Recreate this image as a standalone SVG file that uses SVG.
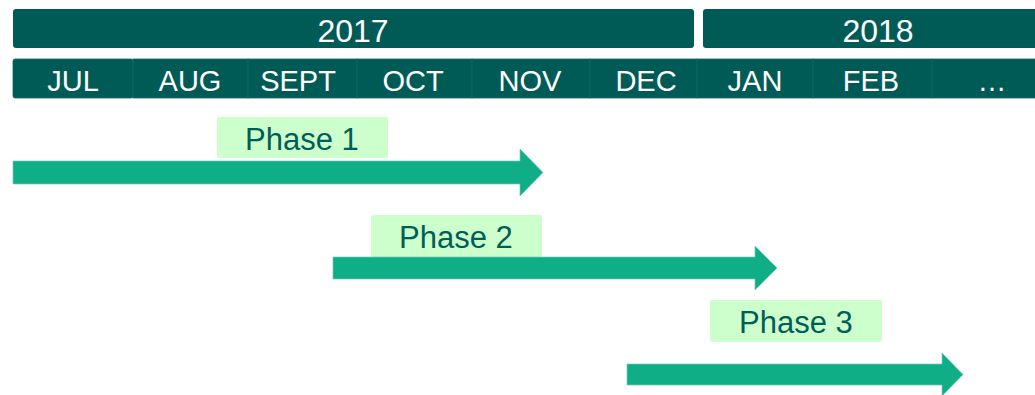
<svg xmlns="http://www.w3.org/2000/svg" width="1035" height="395" viewBox="0 0 1035 395">
<style>
.bar{fill:#005b57;}
.cell{fill:#005b57;stroke:#14665f;stroke-width:0.8;}
.wt{fill:#ffffff;font-family:"Liberation Sans",Arial,sans-serif;text-anchor:middle;}
.yr{font-size:32px;}
.mo{font-size:29px;}
.lbl{fill:#ccffcc;}
.pt{fill:#005e58;font-family:"Liberation Sans",Arial,sans-serif;font-size:31px;text-anchor:middle;}
.arr{fill:#0fae87;stroke:#6fcfb3;stroke-width:0.7;}
</style>
<rect width="1035" height="395" fill="#ffffff"/>
<g id="years">
<g id="year-2017"><rect class="bar" x="13" y="9" width="681" height="39" rx="3"/><text class="wt yr" x="353" y="42">2017</text></g>
<g id="year-2018"><rect class="bar" x="703" y="9" width="340" height="39" rx="3"/><text class="wt yr" x="878" y="42">2018</text></g>
</g>
<g id="months">
<g id="m-jul"><rect class="cell" x="13" y="59" width="120" height="39" rx="2"/><text class="wt mo" x="73" y="91">JUL</text></g>
<g id="m-aug"><rect class="cell" x="133" y="59" width="115" height="39"/><text class="wt mo" x="190" y="91">AUG</text></g>
<g id="m-sept"><rect class="cell" x="248" y="59" width="109" height="39"/><text class="wt mo" x="298" y="91">SEPT</text></g>
<g id="m-oct"><rect class="cell" x="357" y="59" width="115" height="39"/><text class="wt mo" x="413" y="91">OCT</text></g>
<g id="m-nov"><rect class="cell" x="472" y="59" width="118" height="39"/><text class="wt mo" x="530" y="91">NOV</text></g>
<g id="m-dec"><rect class="cell" x="590" y="59" width="107" height="39"/><text class="wt mo" x="646" y="91">DEC</text></g>
<g id="m-jan"><rect class="cell" x="697" y="59" width="116" height="39"/><text class="wt mo" x="755" y="91">JAN</text></g>
<g id="m-feb"><rect class="cell" x="813" y="59" width="119" height="39"/><text class="wt mo" x="871" y="91">FEB</text></g>
<g id="m-more"><rect class="cell" x="932" y="59" width="110" height="39"/><text class="wt mo" x="992" y="91">…</text></g>
</g>
<g id="phase-1"><rect class="lbl" x="217" y="117" width="171" height="41" rx="2"/><text class="pt" x="302" y="150">Phase 1</text></g>
<g id="phase-2"><rect class="lbl" x="371" y="215" width="171" height="42" rx="2"/><text class="pt" x="456" y="248">Phase 2</text></g>
<g id="phase-3"><rect class="lbl" x="710" y="300" width="172" height="42" rx="2"/><text class="pt" x="796" y="333">Phase 3</text></g>
<g id="connectors">
<polygon class="arr" points="13,161 520,161 520,149 543,172.5 520,196 520,184 13,184"/>
<polygon class="arr" points="333,257 755,257 755,246 777,268 755,290 755,279 333,279"/>
<polygon class="arr" points="627,364 942,364 942,353 963,374.5 942,396 942,385 627,385"/>
</g>
</svg>
